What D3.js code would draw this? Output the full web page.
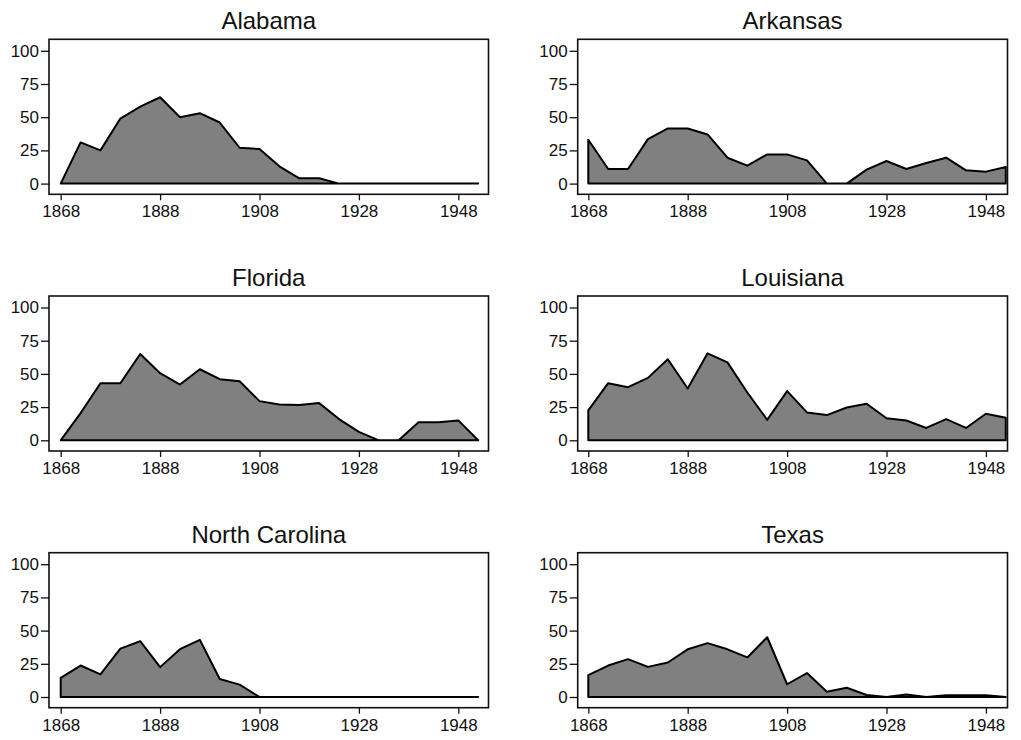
<!DOCTYPE html>
<html>
<head>
<meta charset="utf-8">
<script src="https://cdn.jsdelivr.net/npm/d3@7"></script>
<style>
  body { margin: 0; background: #fff; }
  svg { display: block; font-family: "Liberation Sans", Arial, sans-serif; }
</style>
</head>
<body>
<div id="chart"></div>
<script>
// years sampled every 4 years
var years = d3.range(1868, 1953, 4);

var states = ["Alabama", "Arkansas", "Florida", "Louisiana", "North Carolina", "Texas"];

var alabama = [0, 31, 25, 49, 58, 65, 50, 53, 46, 27, 26, 13, 4, 4, 0, 0, 0, 0, 0, 0, 0, 0];
var arkansas = [33, 11, 11, 33.5, 41.5, 41.5, 37, 19.5, 13.5, 22, 22, 17.5, 0, 0, 10.5, 17, 11, 15.5, 19.5, 10, 9, 12.5];
var florida = [0, 20.5, 43, 43, 65, 50.5, 42, 53.5, 46, 44.5, 29.5, 27, 26.5, 28, 16, 6.3, 0, 0, 13.6, 13.6, 15, 0];
var louisiana = [22.5, 43, 40, 47, 61, 39, 65.5, 58.7, 36, 15.4, 37, 21, 19, 24.7, 27.5, 16.6, 14.9, 9.3, 15.9, 9.3, 20, 17];
var northCarolina = [14.4, 23.7, 17, 36.4, 42, 22.5, 36, 43, 13.6, 9.3, 0, 0, 0, 0, 0, 0, 0, 0, 0, 0, 0, 0];
var texas = [16.4, 23.7, 28.5, 22.7, 26, 35.9, 40.6, 35.9, 29.8, 45, 9.6, 18, 4, 7, 1.5, 0, 1.8, 0, 1.3, 1.3, 1.3, 0];

var seriesList = [alabama, arkansas, florida, louisiana, northCarolina, texas];

var xTicks = [1868, 1888, 1908, 1928, 1948];
var yTicks = [0, 25, 50, 75, 100];

var width = 1021, height = 740;

// frame geometry per column / row
var colFrame = [[49, 488.5], [577.7, 1007.5]];
var colPad = [11.7, 10.6];
var rowTop = [39.3, 296, 552.7];
var frameH = 155;

var svg = d3.select("#chart").append("svg")
    .attr("width", width)
    .attr("height", height);

svg.append("rect").attr("width", width).attr("height", height).attr("fill", "#fff");

states.forEach(function (name, i) {
    var col = i % 2, row = Math.floor(i / 2);
    var fx0 = colFrame[col][0], fx1 = colFrame[col][1];
    var fy0 = rowTop[row], fy1 = rowTop[row] + frameH;

    var x = d3.scaleLinear()
        .domain([1868, 1948])
        .range([fx0 + colPad[col], fx0 + colPad[col] + 397.6]);
    var y = d3.scaleLinear()
        .domain([0, 100])
        .range([fy0 + 144.3, fy0 + 11.5]);

    var g = svg.append("g");
    var data = years.map(function (yr, k) { return {year: yr, value: seriesList[i][k]}; });

    // area, outlined all round
    var area = d3.area()
        .x(function (d) { return x(d.year); })
        .y0(y(0))
        .y1(function (d) { return y(d.value); });

    g.append("path")
        .datum(data)
        .attr("d", area)
        .attr("fill", "#808080")
        .attr("stroke", "#000")
        .attr("stroke-width", 2)
        .attr("stroke-linejoin", "round");

    // frame
    g.append("rect")
        .attr("x", fx0).attr("y", fy0)
        .attr("width", fx1 - fx0).attr("height", fy1 - fy0)
        .attr("fill", "none")
        .attr("stroke", "#111")
        .attr("stroke-width", 1.6);

    // y axis
    var yAxis = d3.axisLeft(y).tickValues(yTicks).tickSize(8).tickPadding(2);
    var ya = g.append("g")
        .attr("transform", "translate(" + fx0 + ",0)")
        .call(yAxis);
    ya.select(".domain").remove();
    ya.selectAll(".tick line").attr("stroke", "#111").attr("stroke-width", 1.3);
    ya.selectAll(".tick text")
        .attr("font-size", 17)
        .attr("font-family", "Liberation Sans, Arial, sans-serif")
        .attr("fill", "#111");

    // x axis
    var xAxis = d3.axisBottom(x).tickValues(xTicks).tickFormat(d3.format("d")).tickSize(6).tickPadding(5);
    var xa = g.append("g")
        .attr("transform", "translate(0," + fy1 + ")")
        .call(xAxis);
    xa.select(".domain").remove();
    xa.selectAll(".tick line").attr("stroke", "#111").attr("stroke-width", 1.3);
    xa.selectAll(".tick text")
        .attr("font-size", 17)
        .attr("font-family", "Liberation Sans, Arial, sans-serif")
        .attr("fill", "#111");

    // title
    g.append("text")
        .attr("x", (fx0 + fx1) / 2)
        .attr("y", fy0 - 10)
        .attr("text-anchor", "middle")
        .attr("font-size", 24)
        .attr("fill", "#111")
        .text(name);
});
</script>
</body>
</html>
